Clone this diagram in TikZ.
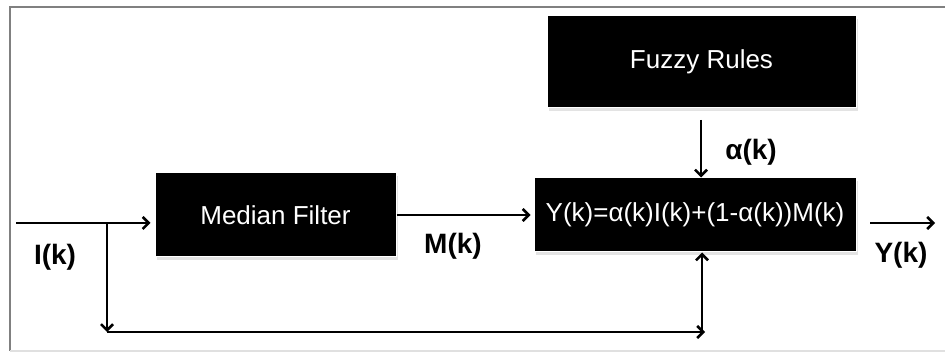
\documentclass[tikz,border=0pt]{standalone}
\usepackage{fontspec}
\setmainfont{Liberation Sans}
\usetikzlibrary{arrows.meta,shadows}
\begin{document}
\begin{tikzpicture}[x=1pt,y=-1pt,
  blk/.style={draw=white, line width=1pt, fill=black, text=white, inner sep=0pt,
    font=\fontsize{26}{30}\selectfont,
    drop shadow={shadow xshift=2pt, shadow yshift=-3pt, fill=black!22}},
  lbl/.style={font=\fontsize{28}{32}\selectfont\bfseries, inner sep=0pt},
  conn/.style={line width=2.5pt, -{Straight Barb[length=6pt,width=12pt,line width=2.5pt]}},
  plain/.style={line width=2.5pt}]
\useasboundingbox (0,0) rectangle (945,352);
% frame
\draw[line width=2pt, draw=black!50] (10,351) -- (10,7) -- (945,7);
\draw[line width=2pt, draw=black!12] (10,351) -- (945,351);
% blocks
\node[blk, minimum width=309pt, minimum height=92pt] (fuzzy) at (701.5,62) {Fuzzy Rules};
\node[blk, minimum width=241pt, minimum height=84pt] (med) at (275.5,215) {Median Filter};
\node[blk, minimum width=322pt, minimum height=74pt] (form) at (695,215) {Y(k)=α(k)I(k)+(1-α(k))M(k)};
% coordinates
\coordinate (in) at (16,223);
\coordinate (br) at (107,223);
\coordinate (brd) at (107,332);
\coordinate (bre) at (702,332);
\coordinate (aTop) at (701,120);
\coordinate (out0) at (870,223);
\coordinate (out1) at (935,223);
% connectors
\draw[conn, shorten >=4pt] (in) -- (in -| med.west);
\draw[conn] (br) -- (brd);
\draw[conn] (brd) -- ([xshift=3pt]bre);
\draw[conn] (bre) -- (bre |- form.south);
\draw[conn, shorten >=3pt] (med.east |- 0,215) -- (form.west);
\draw[conn] (aTop) -- (aTop |- form.north);
\draw[conn] (out0) -- (out1);
% labels
\node[lbl] (lI) at (55,257) {I(k)};
\node[lbl] (lM) at (453,246) {M(k)};
\node[lbl] (lA) at (751,152) {α(k)};
\node[lbl] (lY) at (901,255) {Y(k)};
\end{tikzpicture}
\end{document}
